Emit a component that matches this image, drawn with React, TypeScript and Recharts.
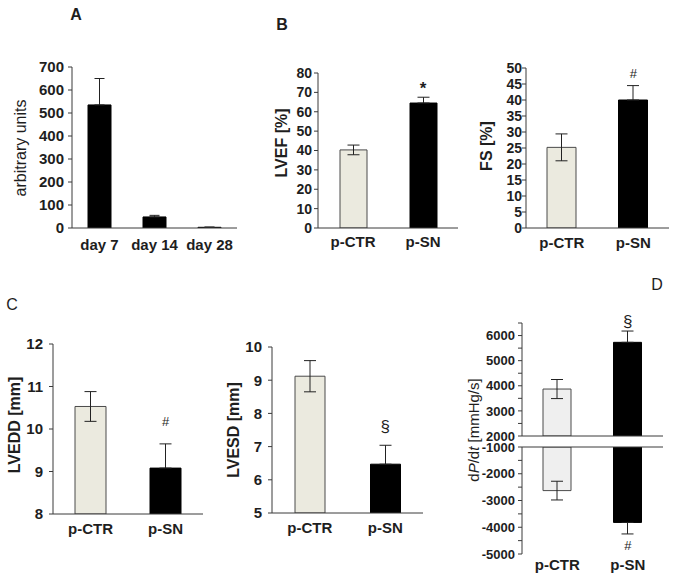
import React from "react";
import {
  ComposedChart,
  Bar,
  Cell,
  ErrorBar,
  XAxis,
  YAxis,
  ReferenceDot,
  ReferenceLine,
} from "recharts";

// ---- data ----
const days = ["day 7", "day 14", "day 28"];
const units = [535, 48, 3];
const unitsErr = [115, 7, 1];
const unitsTicks = [0, 100, 200, 300, 400, 500, 600, 700];

const groups = ["p-CTR", "p-SN"];

const lvef = [40.3, 64.5];
const lvefErr = [2.5, 3];
const lvefMarks = ["", "*"];
const lvefTicks = [0, 10, 20, 30, 40, 50, 60, 70, 80];

const fs = [25.2, 40];
const fsErr = [4.2, 4.5];
const fsMarks = ["", "#"];
const fsTicks = [0, 5, 10, 15, 20, 25, 30, 35, 40, 45, 50];

const lvedd = [10.53, 9.08];
const lveddErr = [0.35, 0.57];
const lveddMarks = ["", "#"];
const lveddTicks = [8, 9, 10, 11, 12];

const lvesd = [9.12, 6.47];
const lvesdErr = [0.47, 0.57];
const lvesdMarks = ["", "§"];
const lvesdTicks = [5, 6, 7, 8, 9, 10];

const dpdtMax = [3870, 5730];
const dpdtMaxErr = [380, 450];
const dpdtMaxMarks = ["", "§"];
const dpdtMaxTicks = [2000, 2500, 3000, 3500, 4000, 4500, 5000, 5500, 6000, 6500];

const dpdtMin = [-2630, -3820];
const dpdtMinErr = [350, 430];
const dpdtMinMarks = ["", "#"];
const dpdtMinTicks = [-5000, -4500, -4000, -3500, -3000, -2500, -2000, -1500, -1000];

// ---- styles ----
const FONT = "'Liberation Sans', Arial, Helvetica, sans-serif";
const INK = "#1e1e1e";
const AXIS = "#3a3a3a";
const LIGHT = "#ebeadf";
const LIGHT_D = "#efefef";
const DARK = "#000000";
const MT = 12;
const MR = 12;

const thousands = (v: number) => (v % 1000 === 0 ? String(v) : "");

type PanelProps = {
  x0: number;
  y0: number;
  x1: number;
  y1: number;
  cats: string[];
  values: number[];
  errs: number[];
  marks?: string[];
  fills: string[];
  domain: [number, number];
  ticks: number[];
  tickFormatter?: (v: number) => string;
  tickFont: number;
  tickMargin: number;
  barSize: number;
  xMode: "labels" | "line" | "topLine";
  xTickMargin?: number;
  markFont?: number;
  markOffset?: number;
  markBold?: boolean;
  errWidth?: number;
};

function Panel(p: PanelProps) {
  const yWidth = 60;
  const xh = p.xMode === "line" ? 12 : 30;
  const left = p.x0 - yWidth;
  const top = p.y0 - MT;
  const width = yWidth + (p.x1 - p.x0) + MR;
  const height = MT + (p.y1 - p.y0) + xh;
  const down = p.domain[1] <= 0;
  // black bars hide the inner half of the error bar, so only the outer half is drawn
  const data = p.cats.map((c, i) => {
    const e = p.errs[i];
    const dark = p.fills[i] === DARK;
    const err = dark ? (down ? [e, 0] : [0, e]) : [e, e];
    return { cat: c, v: p.values[i], e: err };
  });
  const labelTick = { fill: INK, fontSize: 15, fontWeight: 700, fontFamily: FONT };

  return (
    <div style={{ position: "absolute", left, top }}>
      <ComposedChart
        width={width}
        height={height}
        data={data}
        margin={{ top: MT, right: MR, bottom: 0, left: 0 }}
      >
        {p.xMode === "labels" && (
          <XAxis
            dataKey="cat"
            interval={0}
            height={xh}
            axisLine={{ stroke: AXIS }}
            tickLine={false}
            tickSize={4}
            tickMargin={p.xTickMargin ?? 4}
            tick={labelTick}
          />
        )}
        {p.xMode === "line" && (
          <XAxis dataKey="cat" height={xh} axisLine={{ stroke: AXIS }} tick={false} tickLine={false} />
        )}
        {p.xMode === "topLine" && (
          <XAxis
            dataKey="cat"
            interval={0}
            height={xh}
            axisLine={false}
            tickLine={false}
            tickSize={0}
            tickMargin={p.xTickMargin ?? 4}
            tick={labelTick}
          />
        )}
        <YAxis
          width={yWidth}
          type="number"
          domain={p.domain}
          ticks={p.ticks}
          interval={0}
          allowDataOverflow
          tickFormatter={p.tickFormatter}
          axisLine={{ stroke: AXIS }}
          tickLine={{ stroke: AXIS }}
          tickSize={4}
          tickMargin={p.tickMargin}
          tick={{ fill: INK, fontSize: p.tickFont, fontWeight: 700, fontFamily: FONT }}
        />
        <Bar dataKey="v" barSize={p.barSize} isAnimationActive={false}>
          {data.map((d, i) => (
            <Cell
              key={d.cat}
              fill={p.fills[i]}
              stroke={p.fills[i] === DARK ? DARK : "#4a4a4a"}
              strokeWidth={1}
            />
          ))}
          <ErrorBar dataKey="e" width={p.errWidth ?? 6} stroke="#222" strokeWidth={1} direction="y" />
        </Bar>
        {p.xMode === "topLine" && (
          <ReferenceLine y={p.domain[1]} stroke={AXIS} ifOverflow="visible" />
        )}
        {(p.marks || []).map((m, i) =>
          m ? (
            <ReferenceDot
              key={"m" + i}
              x={p.cats[i]}
              y={down ? p.values[i] - p.errs[i] : p.values[i] + p.errs[i]}
              r={0}
              ifOverflow="visible"
              label={{
                value: m,
                position: down ? "bottom" : "top",
                offset: p.markOffset ?? 5,
                fill: INK,
                fontSize: p.markFont ?? 14,
                fontWeight: p.markBold ? 700 : 400,
                fontFamily: FONT,
              }}
            />
          ) : null
        )}
      </ComposedChart>
    </div>
  );
}

function YTitle({ x, y, bold, size, children }: any) {
  return (
    <text
      transform={`translate(${x}, ${y}) rotate(-90)`}
      textAnchor="middle"
      dominantBaseline="central"
      fill={INK}
      fontFamily={FONT}
      fontSize={size}
      fontWeight={bold ? 700 : 400}
    >
      {children}
    </text>
  );
}

export default function App() {
  return (
    <div
      style={{
        position: "absolute",
        left: 0,
        top: 0,
        width: 675,
        height: 584,
        background: "#fff",
        overflow: "hidden",
        fontFamily: FONT,
      }}
    >
      <Panel
        x0={72} y0={67} x1={237} y1={228}
        cats={days} values={units} errs={unitsErr}
        fills={[DARK, DARK, DARK]}
        domain={[0, 700]} ticks={unitsTicks}
        tickFont={15} tickMargin={4} barSize={23}
        xMode="labels" xTickMargin={7} errWidth={5}
      />
      <Panel
        x0={318} y0={73} x1={458} y1={228}
        cats={groups} values={lvef} errs={lvefErr} marks={lvefMarks}
        fills={[LIGHT, DARK]}
        domain={[0, 80]} ticks={lvefTicks}
        tickFont={14} tickMargin={2} barSize={27}
        xMode="labels" xTickMargin={4}
        markFont={17} markOffset={3} markBold
      />
      <Panel
        x0={526} y0={68} x1={669} y1={228}
        cats={groups} values={fs} errs={fsErr} marks={fsMarks}
        fills={[LIGHT, DARK]}
        domain={[0, 50]} ticks={fsTicks}
        tickFont={14} tickMargin={0} barSize={29}
        xMode="labels" xTickMargin={5}
        markFont={13} markOffset={8}
      />
      <Panel
        x0={53} y0={344} x1={203} y1={514}
        cats={groups} values={lvedd} errs={lveddErr} marks={lveddMarks}
        fills={[LIGHT, DARK]}
        domain={[8, 12]} ticks={lveddTicks}
        tickFont={15} tickMargin={6} barSize={31}
        xMode="labels" xTickMargin={5}
        markFont={13} markOffset={18}
      />
      <Panel
        x0={272} y0={347} x1={423} y1={513}
        cats={groups} values={lvesd} errs={lvesdErr} marks={lvesdMarks}
        fills={[LIGHT, DARK]}
        domain={[5, 10]} ticks={lvesdTicks}
        tickFont={15} tickMargin={6} barSize={30}
        xMode="labels" xTickMargin={5}
        markFont={17} markOffset={13}
      />
      <Panel
        x0={522} y0={323} x1={663} y1={436}
        cats={groups} values={dpdtMax} errs={dpdtMaxErr} marks={dpdtMaxMarks}
        fills={[LIGHT_D, DARK]}
        domain={[2000, 6500]} ticks={dpdtMaxTicks} tickFormatter={thousands}
        tickFont={13} tickMargin={3} barSize={28}
        xMode="line"
        markFont={17} markOffset={4}
      />
      <Panel
        x0={522} y0={447} x1={663} y1={554}
        cats={groups} values={dpdtMin} errs={dpdtMinErr} marks={dpdtMinMarks}
        fills={[LIGHT_D, DARK]}
        domain={[-5000, -1000]} ticks={dpdtMinTicks} tickFormatter={thousands}
        tickFont={13} tickMargin={3} barSize={28}
        xMode="topLine" xTickMargin={5}
        markFont={13} markOffset={7}
      />

      <svg
        width={675}
        height={584}
        style={{ position: "absolute", left: 0, top: 0, pointerEvents: "none" }}
      >
        <g fill={INK} fontFamily={FONT} textAnchor="middle" dominantBaseline="central">
          <text x={76} y={14} fontSize={16} fontWeight={700}>A</text>
          <text x={282} y={24} fontSize={16} fontWeight={700}>B</text>
          <text x={12} y={304} fontSize={16}>C</text>
          <text x={657} y={284} fontSize={16}>D</text>
        </g>
        <YTitle x={20} y={148} size={16}>arbitrary units</YTitle>
        <YTitle x={281} y={143} size={16} bold>LVEF [%]</YTitle>
        <YTitle x={486} y={146} size={16} bold>FS [%]</YTitle>
        <YTitle x={14} y={425} size={16} bold>LVEDD [mm]</YTitle>
        <YTitle x={233} y={430} size={16} bold>LVESD [mm]</YTitle>
        <YTitle x={473} y={430} size={15}>
          d<tspan fontStyle="italic">P</tspan>/d<tspan fontStyle="italic">t</tspan> [mmHg/s]
        </YTitle>
      </svg>
    </div>
  );
}
